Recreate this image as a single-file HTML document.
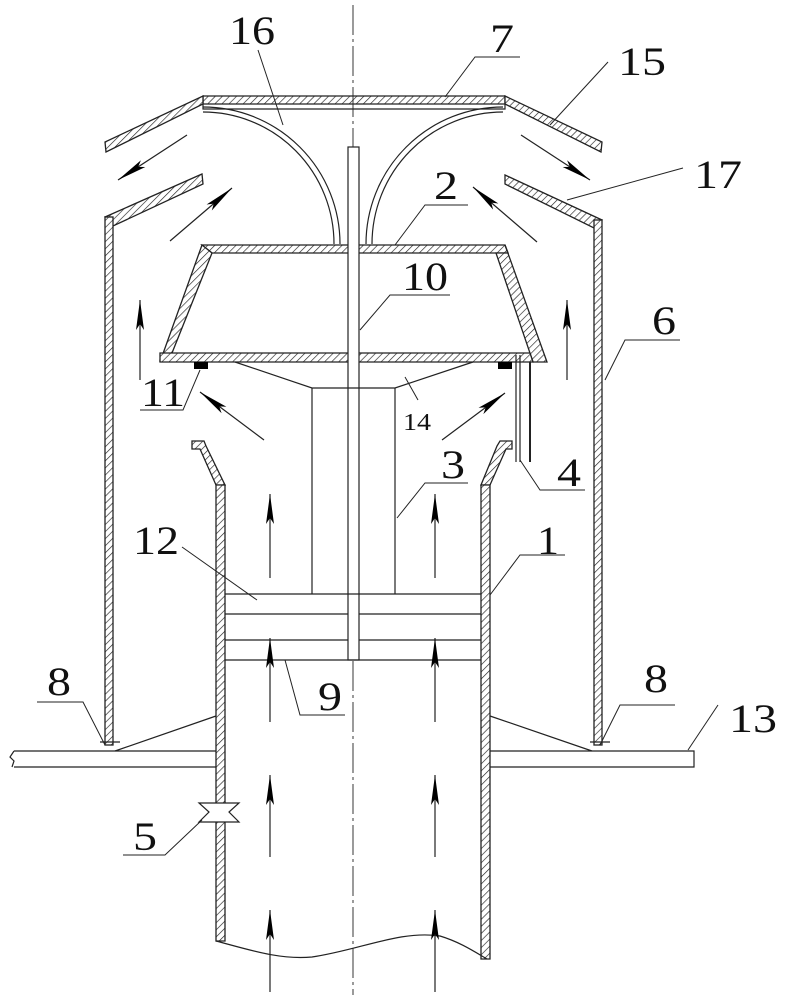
<!DOCTYPE html>
<html><head><meta charset="utf-8"><style>
html,body{margin:0;padding:0;background:#fff;}
svg{display:block;}
text{font-family:"Liberation Serif",serif;fill:#111;}
</style></head><body>
<svg width="785" height="1000" viewBox="0 0 785 1000" xmlns="http://www.w3.org/2000/svg">
<defs>
<pattern id="h" patternUnits="userSpaceOnUse" width="5" height="5" patternTransform="rotate(45)">
<rect width="5" height="5" fill="#fff"/><line x1="0" y1="0" x2="0" y2="5" stroke="#222" stroke-width="1.3"/>
</pattern>
<marker id="a" viewBox="0 0 30 10" refX="30" refY="5" markerWidth="30" markerHeight="10" markerUnits="userSpaceOnUse" orient="auto">
<path d="M0,1 L30,5 L0,9 L6,5 Z" fill="#000"/>
</marker>
</defs>
<g stroke="#222" stroke-width="1.3" fill="url(#h)">
<polygon points="203,96 505,96 505,104 203,104"/>
<polygon points="203,96 203,104 106,152 105,142"/>
<polygon points="505,96 505,104 601,152 602,142"/>
<polygon points="105,217 202,174 203,184 113,226"/>
<polygon points="505,175 602,220 594,228 505,184"/>
<rect x="105" y="217" width="8" height="528"/>
<rect x="594" y="220" width="8" height="525"/>
<polygon points="202,245 505,245 508,253 212,253"/>
<polygon points="202,245 212,253 172,353 160,360 160,362"/>
<polygon points="505,245 547,362 533,362 496,253 508,253"/>
<polygon points="160,353 530,353 533,362 160,362"/>
<polygon points="192,441 204,441 206,446 225,485 225,485 216,485 200,449 192,449"/>
<polygon points="216,485 225,485 225,941 216,941"/>
<polygon points="512,441 500,441 497,446 481,485 490,485 506,449 512,449"/>
<polygon points="481,485 490,485 490,959 481,959"/>
</g>
<g stroke="#222" stroke-width="1.2" fill="none">
<line x1="353" y1="5" x2="353" y2="995" stroke-dasharray="30,4,3,4" stroke-width="0.9"/>
<path d="M203,104 L203,109 L505,109 L505,104"/>
<path d="M203,107 A137,137 0 0 1 340,244"/>
<path d="M203,112 A131,132 0 0 1 334,244"/>
<path d="M503,107 A137,137 0 0 0 366,244"/>
<path d="M503,112 A131,132 0 0 0 372,244"/>
<rect x="348" y="147" width="11" height="513" fill="#fff"/>
<path d="M235,362 L312,388 L395,388 L473,362"/>
<line x1="312" y1="388" x2="312" y2="594"/>
<line x1="395" y1="388" x2="395" y2="594"/>
<line x1="225" y1="594" x2="481" y2="594"/>
<line x1="225" y1="614" x2="348" y2="614"/><line x1="359" y1="614" x2="481" y2="614"/>
<line x1="225" y1="640" x2="348" y2="640"/><line x1="359" y1="640" x2="481" y2="640"/>
<line x1="225" y1="660" x2="481" y2="660"/>
<line x1="516" y1="355" x2="516" y2="462"/><line x1="520" y1="355" x2="520" y2="462"/>
<line x1="530" y1="362" x2="530" y2="462" stroke-width="2"/>
<path d="M216,941 C250,950 280,960 312,957 C360,950 400,930 440,936 C460,942 475,952 487,959"/>
<path d="M14,751 L216,751 M14,767 L216,767 M14,751 L10,757 L14,761 L12,767"/>
<path d="M490,751 L694,751 L694,767 L490,767"/>
<line x1="115" y1="751" x2="216" y2="716"/>
<line x1="490" y1="716" x2="592" y2="751"/>
<line x1="100" y1="742" x2="120" y2="742"/>
<line x1="590" y1="742" x2="610" y2="742"/>
<path d="M199,803 L239,803 L229,812 L239,822 L199,822 L209,812 Z" fill="#fff"/>
<g marker-end="url(#a)">
<line x1="270" y1="992" x2="270" y2="910"/>
<line x1="435" y1="992" x2="435" y2="910"/>
<line x1="270" y1="857" x2="270" y2="775"/>
<line x1="435" y1="857" x2="435" y2="775"/>
<line x1="270" y1="722" x2="270" y2="638"/>
<line x1="435" y1="722" x2="435" y2="638"/>
<line x1="270" y1="578" x2="270" y2="494"/>
<line x1="435" y1="578" x2="435" y2="494"/>
<line x1="140" y1="380" x2="140" y2="300"/>
<line x1="567" y1="380" x2="567" y2="300"/>
<line x1="264" y1="440" x2="200" y2="392"/>
<line x1="442" y1="440" x2="505" y2="393"/>
<line x1="170" y1="241" x2="232" y2="188"/>
<line x1="537" y1="242" x2="473" y2="187"/>
<line x1="187" y1="135" x2="118" y2="180"/>
<line x1="521" y1="135" x2="590" y2="180"/>
</g>
<g stroke-width="1">
<line x1="258" y1="50" x2="283" y2="125"/>
<path d="M520,57 L475,57 L445,97"/>
<line x1="608" y1="62" x2="550" y2="125"/>
<line x1="683" y1="168" x2="567" y2="200"/>
<path d="M468,205 L425,205 L395,245"/>
<path d="M450,295 L390,295 L360,330"/>
<path d="M680,340 L625,340 L605,380"/>
<path d="M140,410 L183,410 L200,370"/>
<line x1="405" y1="377" x2="418" y2="400"/>
<path d="M585,490 L540,490 L520,460"/>
<path d="M468,483 L425,483 L397,518"/>
<line x1="182" y1="547" x2="257" y2="600"/>
<path d="M565,555 L520,555 L490,595"/>
<path d="M345,715 L300,715 L285,660"/>
<path d="M37,702 L83,702 L105,745"/>
<path d="M675,705 L620,705 L600,745"/>
<line x1="718" y1="705" x2="688" y2="750"/>
<path d="M123,855 L165,855 L202,820"/>
</g>
</g>
<g font-size="40">
<text x="229" y="44" textLength="46" lengthAdjust="spacingAndGlyphs">16</text>
<text x="490" y="52" textLength="24" lengthAdjust="spacingAndGlyphs">7</text>
<text x="618" y="75" textLength="48" lengthAdjust="spacingAndGlyphs">15</text>
<text x="694" y="188" textLength="48" lengthAdjust="spacingAndGlyphs">17</text>
<text x="434" y="199" textLength="24" lengthAdjust="spacingAndGlyphs">2</text>
<text x="402" y="290" textLength="46" lengthAdjust="spacingAndGlyphs">10</text>
<text x="652" y="334" textLength="24" lengthAdjust="spacingAndGlyphs">6</text>
<text x="141" y="406" textLength="44" lengthAdjust="spacingAndGlyphs">11</text>
<text x="557" y="486" textLength="24" lengthAdjust="spacingAndGlyphs">4</text>
<text x="441" y="478" textLength="24" lengthAdjust="spacingAndGlyphs">3</text>
<text x="133" y="554" textLength="46" lengthAdjust="spacingAndGlyphs">12</text>
<text x="537" y="554" textLength="22" lengthAdjust="spacingAndGlyphs">1</text>
<text x="318" y="710" textLength="24" lengthAdjust="spacingAndGlyphs">9</text>
<text x="47" y="695" textLength="24" lengthAdjust="spacingAndGlyphs">8</text>
<text x="644" y="692" textLength="24" lengthAdjust="spacingAndGlyphs">8</text>
<text x="729" y="732" textLength="48" lengthAdjust="spacingAndGlyphs">13</text>
<text x="133" y="850" textLength="24" lengthAdjust="spacingAndGlyphs">5</text>
</g>
<text x="403" y="430" font-size="24" textLength="28" lengthAdjust="spacingAndGlyphs">14</text>
<g fill="#000">
<rect x="194" y="362" width="14" height="7"/>
<rect x="498" y="362" width="14" height="7"/>
</g>
</svg>
</body></html>
